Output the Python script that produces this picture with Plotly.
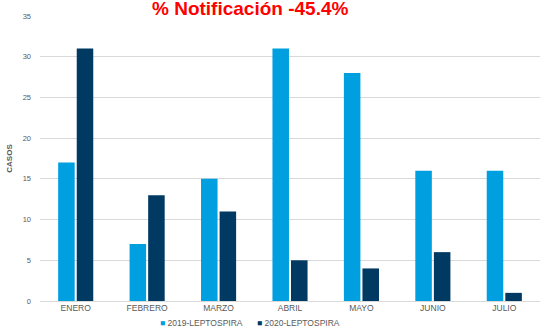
import plotly.graph_objects as go

meses = ["ENERO", "FEBRERO", "MARZO", "ABRIL", "MAYO", "JUNIO", "JULIO"]
casos_2019 = [17, 7, 15, 31, 28, 16, 16]
casos_2020 = [31, 13, 11, 5, 4, 6, 1]
y_ticks = [0, 5, 10, 15, 20, 25, 30, 35]
series = [("2019-LEPTOSPIRA", casos_2019, "#00a0e0"),
          ("2020-LEPTOSPIRA", casos_2020, "#003a62")]

FONT = "Liberation Sans, Arial, sans-serif"
GRAY = "#595959"
GRID = "#d9d9d9"

fig = go.Figure()
for name, vals, color in series:
    fig.add_trace(go.Bar(x=meses, y=vals, name=name, showlegend=False,
                         marker=dict(color=color, line=dict(width=0))))

fig.add_annotation(text="<b>% Notificación -45.4%</b>", xref="paper", yref="paper",
                   x=0.42, y=1.028, xanchor="center", yanchor="middle",
                   showarrow=False, font=dict(family=FONT, size=19, color="#ff0000"))

# compact legend with small square keys below the axis
legend_x = [0.235, 0.43]
for (name, _, color), lx in zip(series, legend_x):
    fig.add_annotation(text=f"<span style='color:{color}'>■</span> {name}",
                       xref="paper", yref="paper", x=lx, y=-0.077,
                       xanchor="left", yanchor="middle", showarrow=False,
                       font=dict(family=FONT, size=8.5, color=GRAY))

fig.update_layout(
    width=540, height=330,
    margin=dict(l=40, r=0, t=16, b=29, autoexpand=False),
    paper_bgcolor="white", plot_bgcolor="white",
    barmode="group", bargap=0.48, bargroupgap=0.11,
    font=dict(family=FONT, size=8, color=GRAY),
    showlegend=False,
)
fig.update_xaxes(showgrid=False, showline=False, ticks="", zeroline=False,
                 tickfont=dict(family=FONT, size=8.5, color=GRAY))
fig.update_yaxes(range=[0, 35], tickvals=y_ticks, showgrid=True, gridcolor=GRID,
                 gridwidth=1, zeroline=True, zerolinecolor=GRID, zerolinewidth=1,
                 showline=False, ticks="", ticklabelstandoff=8,
                 tickfont=dict(family=FONT, size=7.5, color=GRAY),
                 title=dict(text="<b>CASOS</b>", font=dict(family=FONT, size=8, color=GRAY),
                            standoff=8))

fig.write_html("out.html")
